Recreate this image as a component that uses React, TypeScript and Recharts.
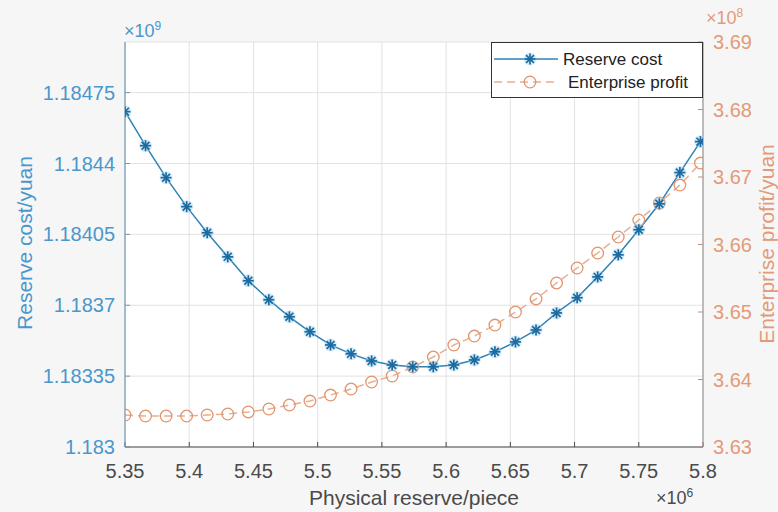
import React from "react";
import { CartesianGrid, Line, LineChart, XAxis, YAxis } from "recharts";

// physical reserve (x 10^6 pieces)
const reserve = [
  5.35, 5.366, 5.382, 5.398, 5.414, 5.43, 5.446, 5.462, 5.478, 5.494, 5.51,
  5.526, 5.542, 5.558, 5.574, 5.59, 5.606, 5.622, 5.638, 5.654, 5.67, 5.686,
  5.702, 5.718, 5.734, 5.75, 5.766, 5.782, 5.798,
];

// reserve cost (x 10^9 yuan)
const reserveCost = [
  1.184656, 1.184488, 1.18433, 1.184187, 1.184058, 1.183939, 1.183821,
  1.183727, 1.183643, 1.183569, 1.183504, 1.18346, 1.183425, 1.183405,
  1.183396, 1.183396, 1.183405, 1.18343, 1.18347, 1.183519, 1.183578,
  1.183662, 1.183737, 1.18384, 1.183949, 1.184073, 1.184201, 1.184355,
  1.184508,
];

// enterprise profit (x 10^8 yuan)
const enterpriseProfit = [
  3.63474, 3.63459, 3.63459, 3.63459, 3.63474, 3.63489, 3.63519, 3.63563,
  3.63622, 3.63681, 3.6377, 3.63859, 3.63963, 3.64052, 3.64185, 3.64333,
  3.64511, 3.64644, 3.64807, 3.65, 3.65193, 3.6543, 3.65652, 3.65874,
  3.66111, 3.66363, 3.66615, 3.66881, 3.67207,
];

const xTicks = [5.35, 5.4, 5.45, 5.5, 5.55, 5.6, 5.65, 5.7, 5.75, 5.8];
const leftTicks = [1.183, 1.18335, 1.1837, 1.18405, 1.1844, 1.18475];
const rightTicks = [3.63, 3.64, 3.65, 3.66, 3.67, 3.68, 3.69];

const data = reserve.map((x, i) => ({
  x,
  cost: reserveCost[i],
  profit: enterpriseProfit[i],
}));

const FONT = "'Liberation Sans', Arial, sans-serif";
const BLUE_TEXT = "#4a97cc";
const ORANGE_TEXT = "#e39a78";
const GREY_TEXT = "#4a4a4a";

function StarDot(props: any) {
  const { cx, cy, index } = props;
  if (cx == null || cy == null) return null;
  const s = 5.5;
  const d = 3.9;
  return (
    <g key={"s" + index}>
      <circle cx={cx} cy={cy} r={6.5} fill="#9fd2f0" opacity={0.45} />
      <g stroke="#1c6aa0" strokeWidth={1.7}>
        <line x1={cx - s} y1={cy} x2={cx + s} y2={cy} />
        <line x1={cx} y1={cy - s} x2={cx} y2={cy + s} />
        <line x1={cx - d} y1={cy - d} x2={cx + d} y2={cy + d} />
        <line x1={cx - d} y1={cy + d} x2={cx + d} y2={cy - d} />
      </g>
    </g>
  );
}

function CircleDot(props: any) {
  const { cx, cy, index } = props;
  if (cx == null || cy == null) return null;
  return (
    <circle
      key={"c" + index}
      cx={cx}
      cy={cy}
      r={5.8}
      fill="none"
      stroke="#e2946c"
      strokeWidth={1.3}
    />
  );
}

function LegendBox() {
  return (
    <div
      style={{
        position: "absolute",
        left: 491,
        top: 42,
        width: 212,
        height: 56,
        border: "1.5px solid #333",
        background: "#fff",
        boxSizing: "border-box",
        fontSize: 17,
        color: "#222",
      }}
    >
      <svg width={70} height={54} style={{ position: "absolute", left: 0, top: 0 }}>
        <line x1={2} y1={16} x2={66} y2={16} stroke="#2f82b8" strokeWidth={1.5} />
        <StarDot cx={38} cy={16} index={0} />
        <line
          x1={2}
          y1={39}
          x2={66}
          y2={39}
          stroke="#e8ae90"
          strokeWidth={1.5}
          strokeDasharray="8 5"
        />
        <CircleDot cx={38} cy={39} index={1} />
      </svg>
      <div style={{ position: "absolute", left: 71, top: 7 }}>Reserve cost</div>
      <div style={{ position: "absolute", left: 76, top: 30 }}>Enterprise profit</div>
    </div>
  );
}

export default function App() {
  return (
    <div
      style={{
        position: "absolute",
        left: 0,
        top: 0,
        width: 778,
        height: 512,
        background: "#f6f6f6",
        fontFamily: FONT,
        overflow: "hidden",
      }}
    >
      <LineChart
        width={778}
        height={512}
        data={data}
        margin={{ top: 42, right: 0, bottom: 0, left: 0 }}
        style={{ fontSize: 20, fontFamily: FONT }}
      >
        <CartesianGrid
          xAxisId="bottom"
          yAxisId="left"
          stroke="#e2e2e2"
          fill="#ffffff"
        />
        <XAxis
          xAxisId="bottom"
          dataKey="x"
          type="number"
          domain={[5.35, 5.8]}
          ticks={xTicks}
          allowDataOverflow
          height={65}
          tickSize={-5}
          tickMargin={22}
          interval={0}
          fontSize={20}
          tickFormatter={(v: number) => String(Number(v.toFixed(2)))}
          tick={{ fill: GREY_TEXT, fontSize: 20 }}
          axisLine={{ stroke: "#4a4a4a", strokeWidth: 1.2 }}
          tickLine={{ stroke: "#4a4a4a" }}
        />
        <XAxis
          xAxisId="top"
          dataKey="x"
          type="number"
          orientation="top"
          domain={[5.35, 5.8]}
          ticks={xTicks}
          height={0}
          tickSize={-5}
          tick={false}
          interval={0}
          axisLine={{ stroke: "#4a4a4a", strokeWidth: 1.2 }}
          tickLine={{ stroke: "#4a4a4a" }}
        />
        <YAxis
          yAxisId="left"
          orientation="left"
          type="number"
          domain={[1.183, 1.185]}
          ticks={leftTicks}
          allowDataOverflow
          width={125}
          tickSize={-5}
          tickMargin={15}
          interval={0}
          fontSize={20}
          tickFormatter={(v: number) => String(Number(v.toFixed(5)))}
          tick={{ fill: BLUE_TEXT, fontSize: 20 }}
          axisLine={{ stroke: "#6e9ab8", strokeWidth: 1.2 }}
          tickLine={{ stroke: "#6e9ab8" }}
        />
        <YAxis
          yAxisId="right"
          orientation="right"
          type="number"
          domain={[3.63, 3.69]}
          ticks={rightTicks}
          allowDataOverflow
          width={75}
          tickSize={-5}
          tickMargin={15}
          interval={0}
          fontSize={20}
          tickFormatter={(v: number) => v.toFixed(2)}
          tick={{ fill: ORANGE_TEXT, fontSize: 20 }}
          axisLine={{ stroke: "#9a9a9a", strokeWidth: 1.2 }}
          tickLine={{ stroke: "#b89080" }}
        />
        <Line
          xAxisId="bottom"
          yAxisId="right"
          dataKey="profit"
          stroke="#e8ae90"
          strokeWidth={1.5}
          strokeDasharray="8 5"
          dot={CircleDot}
          activeDot={false}
          isAnimationActive={false}
        />
        <Line
          xAxisId="bottom"
          yAxisId="left"
          dataKey="cost"
          stroke="#2f82b8"
          strokeWidth={1.5}
          dot={StarDot}
          activeDot={false}
          isAnimationActive={false}
        />
      </LineChart>

      <LegendBox />

      {/* exponent markers */}
      <div
        style={{ position: "absolute", left: 124, top: 19, color: BLUE_TEXT, fontSize: 18 }}
      >
        ×10<sup style={{ fontSize: 12 }}>9</sup>
      </div>
      <div
        style={{ position: "absolute", left: 706, top: 6, color: ORANGE_TEXT, fontSize: 18 }}
      >
        ×10<sup style={{ fontSize: 12 }}>8</sup>
      </div>
      <div
        style={{ position: "absolute", left: 656, top: 486, color: GREY_TEXT, fontSize: 18 }}
      >
        ×10<sup style={{ fontSize: 12 }}>6</sup>
      </div>

      {/* axis titles */}
      <div
        style={{
          position: "absolute",
          left: 25,
          top: 243,
          transform: "translate(-50%, -50%) rotate(-90deg)",
          whiteSpace: "nowrap",
          color: BLUE_TEXT,
          fontSize: 21,
        }}
      >
        Reserve cost/yuan
      </div>
      <div
        style={{
          position: "absolute",
          left: 767,
          top: 244,
          transform: "translate(-50%, -50%) rotate(-90deg)",
          whiteSpace: "nowrap",
          color: ORANGE_TEXT,
          fontSize: 21,
        }}
      >
        Enterprise profit/yuan
      </div>
      <div
        style={{
          position: "absolute",
          left: 414,
          top: 498,
          transform: "translate(-50%, -50%)",
          whiteSpace: "nowrap",
          color: GREY_TEXT,
          fontSize: 21,
        }}
      >
        Physical reserve/piece
      </div>
    </div>
  );
}
